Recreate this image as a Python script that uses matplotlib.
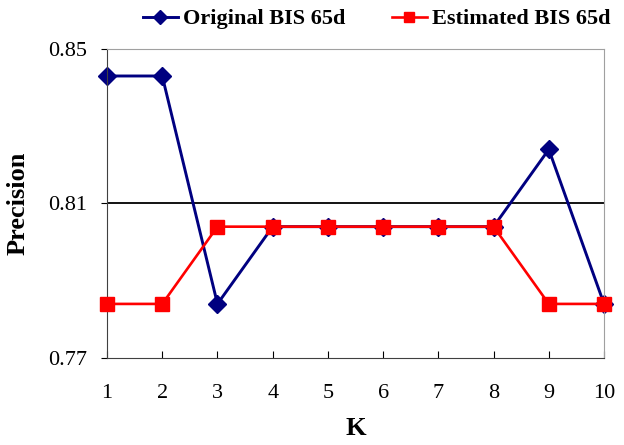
import matplotlib
matplotlib.use("Agg")
import matplotlib.pyplot as plt

k = [1, 2, 3, 4, 5, 6, 7, 8, 9, 10]
original = [0.843, 0.843, 0.784, 0.804, 0.804, 0.804, 0.804, 0.804, 0.824, 0.784]
estimated = [0.784, 0.784, 0.804, 0.804, 0.804, 0.804, 0.804, 0.804, 0.784, 0.784]
yticks = [0.77, 0.81, 0.85]

plt.rcParams['font.family'] = ['Liberation Serif', 'DejaVu Serif']

fig = plt.figure(figsize=(6.24, 4.45), dpi=100)
ax = fig.add_axes([0.1715, 0.1955, 0.7965, 0.6945])

ax.axhline(0.81, color='black', lw=1.3, zorder=1)
# red series sits on top of the blue one, as in the original
ax.plot(k, original, color='#000080', lw=2.1, marker='D', markersize=9.5,
        label='Original BIS 65d', zorder=2, clip_on=False)
ax.plot(k, estimated, color='#FF0000', lw=1.9, marker='s', markersize=10,
        label='Estimated BIS 65d', zorder=3, clip_on=False)

ax.set_xlim(1, 10)
ax.set_ylim(0.77, 0.85)
ax.set_xticks(k)
ax.set_yticks(yticks)
ax.set_yticklabels([f'{v:.2f}' for v in yticks])
ax.tick_params(axis='x', direction='in', length=5, pad=19, labelsize=16)
ax.tick_params(axis='y', direction='out', length=4, pad=10, labelsize=16)

for s in ['top', 'right']:
    ax.spines[s].set_color('#a0a0a0')
for s in ['left', 'bottom']:
    ax.spines[s].set_color('#404040')

ax.set_xlabel('K', fontsize=19, fontweight='bold', labelpad=10)
ax.set_ylabel('Precision', fontsize=19, fontweight='bold', labelpad=14)

fig.legend(loc='upper center', bbox_to_anchor=(0.603, 1.025), ncol=2,
           frameon=False, prop={'weight': 'bold', 'size': 16},
           handlelength=1.6, handletextpad=0.2, columnspacing=2.1,
           markerscale=0.75)

fig.savefig('out.png', dpi=100)
